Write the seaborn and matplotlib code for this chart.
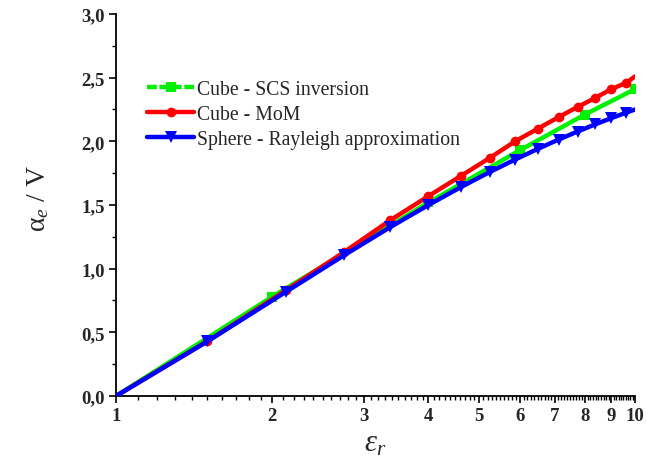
import numpy as np
import pandas as pd
import matplotlib
matplotlib.use("Agg")
import matplotlib.pyplot as plt
from matplotlib.ticker import FixedLocator, FixedFormatter, MultipleLocator, FuncFormatter
from matplotlib.lines import Line2D
import seaborn as sns

# Relative permittivity sampled along each curve
eps_fine = [1.0, 1.5, 2.125, 2.75, 3.375, 4.0, 4.625, 5.25, 5.875,
            6.5, 7.125, 7.75, 8.375, 9.0, 9.625, 10.0]
# Cube - Method of Moments
alpha_mom = [0.0, 0.43, 0.83, 1.13, 1.38, 1.57, 1.73, 1.87, 2.00,
             2.10, 2.19, 2.27, 2.34, 2.41, 2.46, 2.51]
# Sphere - Rayleigh approximation
alpha_sphere = [0.0, 0.429, 0.818, 1.105, 1.326, 1.500, 1.642, 1.759, 1.857,
                1.941, 2.014, 2.077, 2.133, 2.182, 2.226, 2.250]
# Cube - SCS inversion
eps_scs = [1.0, 2.0, 4.0, 6.0, 8.0, 10.0]
alpha_scs = [0.0, 0.78, 1.52, 1.93, 2.21, 2.41]

x_ticks = [1, 2, 3, 4, 5, 6, 7, 8, 9, 10]
x_ticklabels = ["1", "2", "3", "4", "5", "6", "7", "8", "9", "10"]

sns.set_style("ticks")
plt.rcParams["font.family"] = ["Liberation Serif", "DejaVu Serif"]
plt.rcParams["mathtext.fontset"] = "custom"
plt.rcParams["mathtext.rm"] = "Liberation Serif"
plt.rcParams["mathtext.it"] = "Liberation Serif:italic"
plt.rcParams["mathtext.bf"] = "Liberation Serif:bold"

fig = plt.figure(figsize=(6.46, 4.64), dpi=100)
ax = fig.add_axes([0.1796, 0.1444, 0.8034, 0.8233])

df_scs = pd.DataFrame({"eps": eps_scs, "alpha": alpha_scs})
df_fine = pd.DataFrame({"eps": eps_fine, "mom": alpha_mom, "sphere": alpha_sphere})

green, red, blue = "#00f000", "#ff0000", "#0000ff"
lw = 3.2
sns.lineplot(data=df_scs, x="eps", y="alpha", ax=ax, color=green, lw=lw,
             marker="s", markersize=6.5, markeredgewidth=0, markevery=list(range(1, 6)),
             sort=False, legend=False, zorder=2)
sns.lineplot(data=df_fine, x="eps", y="mom", ax=ax, color=red, lw=lw,
             marker="o", markersize=7, markeredgewidth=0, markevery=list(range(1, 15)),
             sort=False, legend=False, zorder=3)
sns.lineplot(data=df_fine, x="eps", y="sphere", ax=ax, color=blue, lw=lw,
             marker="v", markersize=8, markeredgewidth=0, markevery=list(range(1, 15)),
             sort=False, legend=False, zorder=4)

ax.set_xscale("log")
ax.set_xlim(1, 10)
ax.set_ylim(0, 3.0)

ax.xaxis.set_major_locator(FixedLocator(x_ticks))
ax.xaxis.set_major_formatter(FixedFormatter(x_ticklabels))
minor_x = [round(1 + 0.1 * i, 1) for i in range(1, 90)]
ax.xaxis.set_minor_locator(FixedLocator(minor_x))
ax.xaxis.set_minor_formatter(FuncFormatter(lambda v, p: ""))

ax.yaxis.set_major_locator(MultipleLocator(0.5))
ax.yaxis.set_minor_locator(MultipleLocator(0.25))
ax.yaxis.set_major_formatter(FuncFormatter(lambda v, p: f"{v:.1f}".replace(".", ",")))

for lab in ax.get_xticklabels() + ax.get_yticklabels():
    lab.set_fontweight("bold")
    lab.set_fontsize(13.5)

ax.tick_params(axis="both", which="major", direction="out", length=5, width=1.2,
               color="black", pad=3)
ax.tick_params(axis="both", which="minor", direction="out", length=3, width=1.0,
               color="black")
for side in ["left", "bottom"]:
    ax.spines[side].set_linewidth(1.3)
    ax.spines[side].set_color("black")
sns.despine(ax=ax)

ax.set_xlabel(r"$\varepsilon_r$", fontsize=22)
ax.xaxis.set_label_coords(0.5, -0.085)
ax.set_ylabel(r"$\mathrm{\alpha}_e$ / V", fontsize=20)
ax.yaxis.set_label_coords(-0.125, 0.52)

handles = [
    Line2D([], [], color=green, lw=lw, ls=(0, (2.2, 0.6)), marker="s",
           markersize=6.5, markeredgewidth=0),
    Line2D([], [], color=red, lw=lw, marker="o", markersize=7, markeredgewidth=0),
    Line2D([], [], color=blue, lw=lw, marker="v", markersize=8, markeredgewidth=0),
]
labels = ["Cube - SCS inversion", "Cube - MoM", "Sphere - Rayleigh approximation"]
ax.legend(handles, labels, loc="upper left", bbox_to_anchor=(0.06, 0.827),
          frameon=False, fontsize=14.2, handlelength=2.4, handletextpad=0.15,
          labelspacing=0.3, borderaxespad=0, borderpad=0)

fig.savefig("out.png", dpi=100)
